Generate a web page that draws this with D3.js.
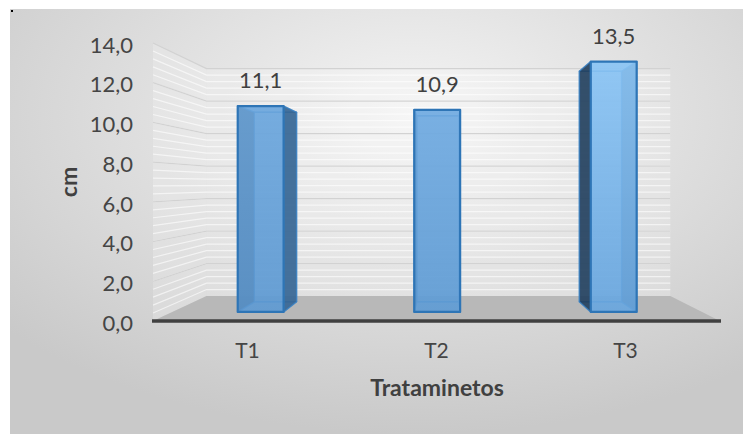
<!DOCTYPE html>
<html>
<head>
  <meta charset="utf-8">
  <script src="https://d3js.org/d3.v7.min.js"></script>
  <style>
  body {
    margin: 0;
    background: #fff;
  }

  text {
    font-family: Lato, 'Open Sans', sans-serif;
  }

  .tick-label {
    font-size: 22px;
    fill: #454545;
  }

  .value-label {
    font-size: 22px;
    fill: #404040;
  }

  .cat-label {
    font-size: 21px;
    fill: #454545;
  }

  .axis-title {
    font-size: 23px;
    font-weight: bold;
    fill: #404040;
  }
  </style>
</head>
<body>
  <div id="viz"></div>
  <script>
  // data
  var categories = ["T1", "T2", "T3"];
  var values = [11.1, 10.9, 13.5];
  var valueLabels = ["11,1", "10,9", "13,5"];
  var tickValues = [0, 2, 4, 6, 8, 10, 12, 14];
  var tickLabels = ["0,0", "2,0", "4,0", "6,0", "8,0", "10,0", "12,0", "14,0"];

  var width = 743,
    height = 434;

  var svg = d3.select("#viz").append("svg")
    .attr("width", width)
    .attr("height", height);

  var defs = svg.append("defs");

  var bg = defs.append("radialGradient")
    .attr("id", "bg")
    .attr("cx", "55%")
    .attr("cy", "25%")
    .attr("r", "75%");
  bg.append("stop").attr("offset", "0%").attr("stop-color", "#f4f4f4");
  bg.append("stop").attr("offset", "100%").attr("stop-color", "#c9c9c9");

  // front face shading (T3 catches more light)
  var frontColors = [["#6ea8de", "#5f9ad2"], ["#72acE2", "#609cd4"], ["#8fc8f7", "#6aa7df"]];
  frontColors.forEach(function(c, i) {
    var g = defs.append("linearGradient")
      .attr("id", "front" + i)
      .attr("x1", 0).attr("y1", 0).attr("x2", 0).attr("y2", 1);
    g.append("stop").attr("offset", "0%").attr("stop-color", c[0]);
    g.append("stop").attr("offset", "100%").attr("stop-color", c[1]);
  });

  svg.append("rect")
    .attr("x", 10)
    .attr("y", 9)
    .attr("width", width - 10)
    .attr("height", height - 9)
    .style("fill", "url(#bg)");

  svg.append("rect")
    .attr("x", 11).attr("y", 10).attr("width", 2).attr("height", 2)
    .style("fill", "#000");

  // front plane scales, then a simple perspective towards a vanishing point
  var x = d3.scaleBand()
    .domain(categories)
    .range([153, 720]);

  var y = d3.scaleLinear()
    .domain([0, 14])
    .range([321, 43]);

  var vp = [447, 184];
  var depthWall = 0.818,
    depthBarFront = 0.934,
    depthBarBack = 0.860;

  function proj(X, Y, s) {
    return [vp[0] + (X - vp[0]) * s, vp[1] + (Y - vp[1]) * s];
  }

  function poly(points) {
    return points.map(function(p) { return p.join(","); }).join(" ");
  }

  var x0 = x.range()[0],
    x1 = x.range()[1];

  // left wall and back wall
  svg.append("polygon")
    .attr("points", poly([proj(x0, y(14), 1), proj(x0, y(14), depthWall), proj(x0, y(0), depthWall), proj(x0, y(0), 1)]))
    .style("fill", "#ffffff")
    .style("fill-opacity", 0.18);

  svg.append("polygon")
    .attr("points", poly([proj(x0, y(14), depthWall), proj(x1, y(14), depthWall), proj(x1, y(0), depthWall), proj(x0, y(0), depthWall)]))
    .style("fill", "#ffffff")
    .style("fill-opacity", 0.18);

  // faint white stripes on the walls
  var minor = d3.range(0.4, 14, 0.4);
  svg.selectAll(".minor")
    .data(minor)
    .enter().append("polyline")
    .attr("class", "minor")
    .attr("points", function(d) {
      return poly([proj(x0, y(d), 1), proj(x0, y(d), depthWall), proj(x1, y(d), depthWall)]);
    })
    .style("fill", "none")
    .style("stroke", "#ffffff")
    .style("stroke-opacity", 0.6)
    .style("stroke-width", 1.2);

  svg.selectAll(".grid")
    .data(tickValues.slice(1))
    .enter().append("polyline")
    .attr("class", "grid")
    .attr("points", function(d) {
      return poly([proj(x0, y(d), 1), proj(x0, y(d), depthWall), proj(x1, y(d), depthWall)]);
    })
    .style("fill", "none")
    .style("stroke", "#d2d2d2")
    .style("stroke-width", 1.3);

  // floor
  svg.append("polygon")
    .attr("points", poly([proj(x0, y(0), 1), proj(x1, y(0), 1), proj(x1, y(0), depthWall), proj(x0, y(0), depthWall)]))
    .style("fill", "#b8b8b8");

  svg.append("line")
    .attr("x1", x0 - 1)
    .attr("x2", x1 + 1)
    .attr("y1", y(0))
    .attr("y2", y(0))
    .style("stroke", "#404040")
    .style("stroke-width", 3.5);

  // y tick labels
  svg.selectAll(".tick-label")
    .data(tickValues)
    .enter().append("text")
    .attr("class", "tick-label")
    .attr("x", 133)
    .attr("y", function(d) { return y(d) + 2; })
    .attr("dy", ".35em")
    .attr("text-anchor", "end")
    .text(function(d, i) { return tickLabels[i]; });

  // bars as transparent boxes
  var barFrac = 0.26;

  values.forEach(function(v, i) {
    var c = x(categories[i]) + x.bandwidth() / 2;
    var bl = c - x.bandwidth() * barFrac / 2,
      br = c + x.bandwidth() * barFrac / 2,
      yb = y(0),
      yt = y(v);
    var f = depthBarFront,
      b = depthBarBack;

    var g = svg.append("g").attr("class", "bar");

    var faces = [
      { pts: [proj(bl, yt, b), proj(br, yt, b), proj(br, yb, b), proj(bl, yb, b)], fill: "#5b9bd5", op: 0.55 },
      { pts: [proj(bl, yb, f), proj(br, yb, f), proj(br, yb, b), proj(bl, yb, b)], fill: "#5b9bd5", op: 0.5 },
      { pts: [proj(bl, yt, f), proj(br, yt, f), proj(br, yt, b), proj(bl, yt, b)], fill: "#5b9bd5", op: 0.5 },
      { pts: [proj(bl, yt, f), proj(bl, yt, b), proj(bl, yb, b), proj(bl, yb, f)], fill: "#1c3650", op: 0.82 },
      { pts: [proj(br, yt, f), proj(br, yt, b), proj(br, yb, b), proj(br, yb, f)], fill: "#35638f", op: 0.85 },
      { pts: [proj(bl, yt, f), proj(br, yt, f), proj(br, yb, f), proj(bl, yb, f)], fill: "url(#front" + i + ")", op: 0.85 }
    ];

    faces.forEach(function(face, k) {
      g.append("polygon")
        .attr("points", poly(face.pts))
        .style("fill", face.fill)
        .style("fill-opacity", face.op)
        .style("stroke", k === 5 ? "#2e75b6" : "#3d84c6")
        .style("stroke-opacity", k === 5 ? 1 : 0.7)
        .style("stroke-width", k === 5 ? 2.2 : 1.4)
        .style("stroke-linejoin", "round");
    });

    var top = proj(c, yt, f);
    svg.append("text")
      .attr("class", "value-label")
      .attr("x", top[0])
      .attr("y", top[1] - 18)
      .attr("text-anchor", "middle")
      .text(valueLabels[i]);
  });

  // category labels
  svg.selectAll(".cat-label")
    .data(categories)
    .enter().append("text")
    .attr("class", "cat-label")
    .attr("x", function(d) { return x(d) + x.bandwidth() / 2; })
    .attr("y", 358)
    .attr("text-anchor", "middle")
    .text(function(d) { return d; });

  svg.append("text")
    .attr("class", "axis-title")
    .attr("x", 437)
    .attr("y", 396)
    .attr("text-anchor", "middle")
    .text("Trataminetos");

  svg.append("text")
    .attr("class", "axis-title")
    .attr("transform", "translate(77,182) rotate(-90)")
    .attr("text-anchor", "middle")
    .text("cm");
  </script>
</body>
</html>
